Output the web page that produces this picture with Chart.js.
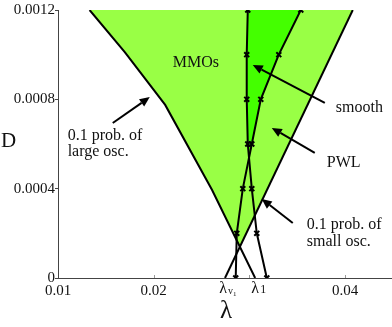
<!DOCTYPE html>
<html>
<head>
<meta charset="utf-8">
<script src="https://cdn.jsdelivr.net/npm/chart.js@4"></script>
<style>body{margin:0;background:#fff}</style>
</head>
<body>
<canvas id="chart" width="392" height="327"></canvas>
<script>
// D levels where both marker curves were computed
const dLevels = [0.0012, 0.001, 0.0008, 0.0006, 0.0004, 0.0002, 0];
// curve that is almost vertical at the top, ends at lambda_1
const curveA = [0.02983, 0.02972, 0.02972, 0.02983, 0.03025, 0.03077, 0.03182];
// slanted curve, ends at lambda_v1
const curveB = [0.03537, 0.03307, 0.03119, 0.03025, 0.02931, 0.02868, 0.02857];
// 0.1 prob. of large osc. boundary
const largeOscX = [0.0133, 0.0170, 0.0212, 0.0261, 0.0306];
const largeOscD = [0.0012, 0.00101, 0.000775, 0.000394, 0];
// 0.1 prob. of small osc. boundary
const smallOscX = [0.0408, 0.02745];
const smallOscD = [0.0012, 0];
const xTicks = [0.01, 0.02, 0.04];
const xMarks = [0.02, 0.03, 0.04];
const yTicks = [0, 0.0004, 0.0008, 0.0012];

const notes = [
    {text: 'MMOs', x: 0.0244, y: 0.000963, align: 'center'},
    {text: '0.1 prob. of', x: 0.01101, y: 0.000636},
    {text: 'large osc.', x: 0.01101, y: 0.000564},
    {text: 'smooth', x: 0.03903, y: 0.000761},
    {text: 'PWL', x: 0.03809, y: 0.000515},
    {text: '0.1 prob. of', x: 0.0360, y: 0.000237},
    {text: 'small osc.', x: 0.0360, y: 0.000161}
];
// tail x, tail y, head x, head y
const arrows = [
    [0.01572, 0.000694, 0.01959, 0.000810],
    [0.03788, 0.000784, 0.03035, 0.000954],
    [0.03683, 0.000560, 0.03234, 0.000672],
    [0.03453, 0.000246, 0.03129, 0.000354]
];

const FONT = '"Liberation Serif", "DejaVu Serif", serif';
Chart.defaults.font.family = FONT;

function toPts(xs, ys) {
    return xs.map((x, i) => ({x: x, y: ys[i]}));
}

function crossing(p, q) {
    for (let i = 0; i < p.length - 1; i++) {
        for (let j = 0; j < q.length - 1; j++) {
            const a = p[i], b = p[i + 1], c = q[j], d = q[j + 1];
            const den = (b.x - a.x) * (d.y - c.y) - (b.y - a.y) * (d.x - c.x);
            if (den === 0) continue;
            const t = ((c.x - a.x) * (d.y - c.y) - (c.y - a.y) * (d.x - c.x)) / den;
            const u = ((c.x - a.x) * (b.y - a.y) - (c.y - a.y) * (b.x - a.x)) / den;
            if (t >= 0 && t <= 1 && u >= 0 && u <= 1) {
                return {x: a.x + t * (b.x - a.x), y: a.y + t * (b.y - a.y)};
            }
        }
    }
    return null;
}

// closed region above the point where p and q cross
function regionAbove(p, q) {
    const c = crossing(p, q);
    const left = p.filter(pt => pt.y > c.y);
    const right = q.filter(pt => pt.y > c.y).reverse();
    return left.concat([c], right);
}

const largeOsc = toPts(largeOscX, largeOscD);
const smallOsc = toPts(smallOscX, smallOscD);
const ptsA = toPts(curveA, dLevels);
const ptsB = toPts(curveB, dLevels);

const annotations = {
    id: 'annotations',
    afterDraw(chart) {
        const ctx = chart.ctx;
        const xs = chart.scales.x, ys = chart.scales.y;
        const area = chart.chartArea;
        ctx.save();

        // small inward tick marks on the x axis
        ctx.strokeStyle = '#999';
        ctx.lineWidth = 1;
        xMarks.forEach(v => {
            const px = Math.round(xs.getPixelForValue(v)) + 0.5;
            ctx.beginPath();
            ctx.moveTo(px, area.bottom);
            ctx.lineTo(px, area.bottom - 3);
            ctx.stroke();
        });

        ctx.fillStyle = '#111';
        ctx.textBaseline = 'middle';
        ctx.font = '16px ' + FONT;
        notes.forEach(n => {
            ctx.textAlign = n.align || 'left';
            ctx.fillText(n.text, xs.getPixelForValue(n.x), ys.getPixelForValue(n.y));
        });

        ctx.strokeStyle = '#000';
        ctx.fillStyle = '#000';
        ctx.lineWidth = 2;
        arrows.forEach(a => {
            const x0 = xs.getPixelForValue(a[0]), y0 = ys.getPixelForValue(a[1]);
            const x1 = xs.getPixelForValue(a[2]), y1 = ys.getPixelForValue(a[3]);
            const ang = Math.atan2(y1 - y0, x1 - x0);
            const len = 10, half = 4.5;
            const bx = x1 - len * Math.cos(ang), by = y1 - len * Math.sin(ang);
            ctx.beginPath();
            ctx.moveTo(x0, y0);
            ctx.lineTo(bx, by);
            ctx.stroke();
            ctx.beginPath();
            ctx.moveTo(x1, y1);
            ctx.lineTo(bx + half * Math.sin(ang), by - half * Math.cos(ang));
            ctx.lineTo(bx - half * Math.sin(ang), by + half * Math.cos(ang));
            ctx.closePath();
            ctx.fill();
        });

        // lambda tick labels at the two boundary intercepts
        ctx.fillStyle = '#111';
        ctx.textBaseline = 'alphabetic';
        const lv = xs.getPixelForValue(smallOscX[smallOscX.length - 1]);
        const l1 = xs.getPixelForValue(largeOscX[largeOscX.length - 1]);
        const base = area.bottom + 15;
        ctx.textAlign = 'right';
        ctx.font = '16px ' + FONT;
        ctx.fillText('λ', lv + 2, base);
        ctx.textAlign = 'left';
        ctx.font = '10px ' + FONT;
        ctx.fillText('v', lv + 3, base + 1);
        ctx.font = '7px ' + FONT;
        ctx.fillText('1', lv + 8, base + 3);
        ctx.textAlign = 'center';
        ctx.font = '16px ' + FONT;
        ctx.fillText('λ', l1, base);
        ctx.textAlign = 'left';
        ctx.font = '12px ' + FONT;
        ctx.fillText('1', l1 + 5, base);

        // axis titles
        ctx.textAlign = 'center';
        ctx.font = '25px ' + FONT;
        ctx.fillText('λ', lv + 1, area.bottom + 40);
        ctx.textAlign = 'left';
        ctx.font = '21px ' + FONT;
        ctx.fillText('D', 1, ys.getPixelForValue(0.00062) + 7);
        ctx.restore();
    }
};

const ctx = document.getElementById('chart').getContext('2d');
new Chart(ctx, {
    type: 'line',
    data: {
        datasets: [
            {
                label: 'curve A',
                data: ptsA,
                borderColor: '#000',
                borderWidth: 2,
                pointStyle: 'crossRot',
                pointRadius: 3.5,
                pointBorderWidth: 2,
                pointBorderColor: '#000',
                fill: false,
                order: 0
            },
            {
                label: 'curve B',
                data: ptsB,
                borderColor: '#000',
                borderWidth: 2,
                pointStyle: 'crossRot',
                pointRadius: 3.5,
                pointBorderWidth: 2,
                pointBorderColor: '#000',
                fill: false,
                order: 0
            },
            {
                label: 'large osc.',
                data: largeOsc,
                borderColor: '#000',
                borderWidth: 2,
                pointRadius: 0,
                fill: false,
                order: 1
            },
            {
                label: 'small osc.',
                data: smallOsc,
                borderColor: '#000',
                borderWidth: 2,
                pointRadius: 0,
                fill: false,
                order: 1
            },
            {
                label: 'between curves',
                data: regionAbove(ptsA, ptsB),
                borderWidth: 0,
                pointRadius: 0,
                backgroundColor: '#44ff00',
                fill: 'shape',
                order: 2
            },
            {
                label: 'MMOs',
                data: regionAbove(largeOsc, smallOsc),
                borderWidth: 0,
                pointRadius: 0,
                backgroundColor: '#99ff45',
                fill: 'shape',
                order: 3
            }
        ]
    },
    options: {
        responsive: false,
        animation: false,
        layout: {autoPadding: false, padding: {top: 10, right: 0, left: 0, bottom: 0}},
        plugins: {
            legend: {display: false},
            tooltip: {enabled: false}
        },
        scales: {
            x: {
                type: 'linear',
                min: 0.01,
                max: 0.0449,
                afterFit: s => { s.height = 49; },
                afterBuildTicks: s => { s.ticks = xTicks.map(v => ({value: v})); },
                grid: {display: false, drawTicks: false},
                border: {display: true, color: '#444', width: 1},
                ticks: {
                    padding: 4,
                    color: '#111',
                    font: {family: FONT, size: 15},
                    maxRotation: 0,
                    autoSkip: false,
                    callback: v => v.toFixed(2)
                }
            },
            y: {
                type: 'linear',
                min: 0,
                max: 0.0012,
                afterFit: s => { s.width = 58; },
                afterBuildTicks: s => { s.ticks = yTicks.map(v => ({value: v})); },
                grid: {drawOnChartArea: false, drawTicks: true, tickLength: 3, color: '#444'},
                border: {display: true, color: '#444', width: 1},
                ticks: {
                    padding: 0,
                    color: '#111',
                    font: {family: FONT, size: 15},
                    callback: v => v === 0 ? '0' : v.toFixed(4)
                }
            }
        }
    },
    plugins: [annotations]
});
</script>
</body>
</html>
